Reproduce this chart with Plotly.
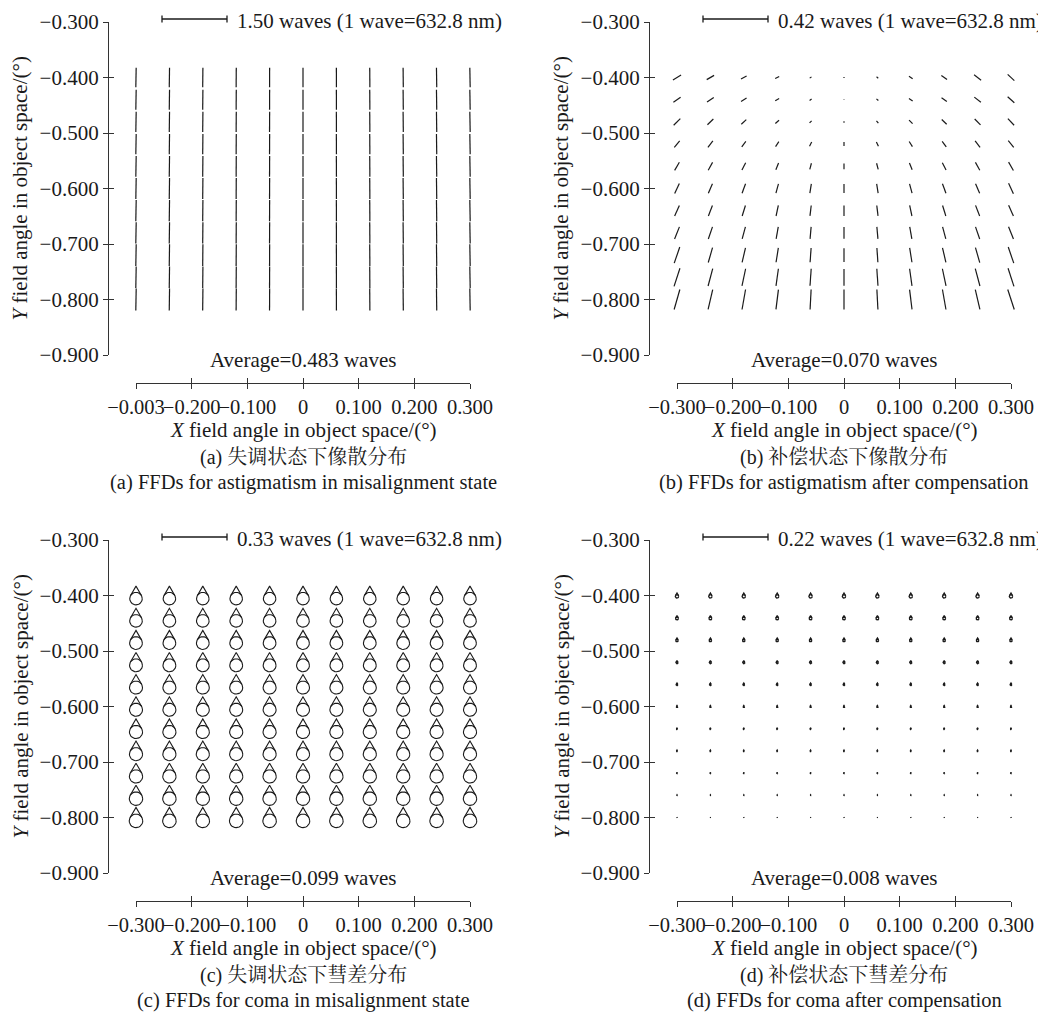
import math
import plotly.graph_objects as go

# page: the figure div sits 8 px in from the top-left corner (body margin)
PAGE_W, PAGE_H = 1046, 1014
OFF = 8
W, H = PAGE_W - OFF, PAGE_H - OFF

# ---------------- data ----------------
XS = [-0.30, -0.24, -0.18, -0.12, -0.06, 0.00, 0.06, 0.12, 0.18, 0.24, 0.30]
YS = [-0.40, -0.44, -0.48, -0.52, -0.56, -0.60, -0.64, -0.68, -0.72, -0.76, -0.80]

X_TICKVALS = [-0.3, -0.2, -0.1, 0.0, 0.1, 0.2, 0.3]
X_TICKTEXT_A = ["−0.003", "−0.200", "−0.100", "0", "0.100", "0.200", "0.300"]
X_TICKTEXT = ["−0.300", "−0.200", "−0.100", "0", "0.100", "0.200", "0.300"]
Y_TICKVALS = [-0.9, -0.8, -0.7, -0.6, -0.5, -0.4, -0.3]
Y_TICKTEXT = ["−0.900", "−0.800", "−0.700", "−0.600", "−0.500", "−0.400", "−0.300"]

# (a) astigmatism, misalignment: magnitude per row (waves), orientation per column (deg from vertical)
ASTIG_A_MAG_ROWS = [0.45, 0.46, 0.47, 0.47, 0.48, 0.48, 0.49, 0.49, 0.50, 0.50, 0.51]
ASTIG_A_ANG_COLS = [1.0, 0.8, 0.6, 0.4, 0.2, 0.0, -0.2, -0.4, -0.6, -0.8, -1.0]

# (b) astigmatism after compensation: magnitude (0.001 waves), orientation (deg from vertical)
ASTIG_B_MAG = [
    [61, 55, 41, 29, 14, 5, 14, 29, 45, 57, 59],
    [57, 52, 42, 29, 16, 4, 16, 29, 42, 54, 58],
    [61, 53, 44, 32, 19, 10, 19, 32, 44, 53, 59],
    [55, 52, 45, 39, 31, 26, 31, 39, 45, 52, 56],
    [61, 58, 53, 47, 41, 37, 41, 47, 53, 58, 62],
    [71, 68, 66, 63, 60, 58, 60, 63, 66, 68, 74],
    [75, 73, 71, 70, 68, 67, 68, 70, 71, 74, 76],
    [84, 83, 81, 79, 78, 76, 78, 79, 81, 83, 85],
    [110, 100, 97, 94, 92, 90, 92, 94, 97, 101, 110],
    [123, 116, 113, 111, 110, 108, 110, 111, 113, 116, 123],
    [134, 132, 131, 129, 129, 129, 129, 129, 131, 132, 136],
]
ASTIG_B_ANG = [
    [59, 60, 62, 63, 55, 0, -50, -55, -55, -53, -47],
    [55, 57, 58, 60, 55, 0, -50, -55, -55, -52, -48],
    [45, 46, 47, 48, 45, 0, -40, -45, -46, -45, -43],
    [39, 38, 36, 33, 27, 0, -25, -32, -36, -38, -39],
    [30, 29, 27, 22, 15, 0, -15, -22, -27, -29, -30],
    [25, 23, 20, 15, 9, 0, -9, -15, -20, -23, -25],
    [24, 21, 17, 12, 7, 0, -7, -12, -17, -21, -24],
    [22, 19, 15, 10, 5, 0, -5, -10, -15, -19, -22],
    [19, 16, 13, 9, 4, 0, -4, -9, -13, -16, -19],
    [18, 15, 12, 8, 4, 0, -4, -8, -12, -15, -18],
    [16, 13, 10, 7, 3, 0, -3, -7, -10, -13, -18],
]

# (c) coma, misalignment: magnitude per row (waves)
COMA_C_MAG_ROWS = [0.095, 0.096, 0.097, 0.098, 0.099, 0.099, 0.100, 0.100, 0.101, 0.102, 0.103]
# (d) coma after compensation: magnitude per row (waves)
COMA_D_MAG_ROWS = [0.017, 0.015, 0.013, 0.011, 0.009, 0.007, 0.006, 0.005, 0.004, 0.003, 0.002]
COMA_DIRECTION_DEG = 90  # apex pointing to +Y

SCALE_WAVES = [1.50, 0.42, 0.33, 0.22]
AVERAGES = [0.483, 0.070, 0.099, 0.008]
CAPTIONS_ZH = ["(a) 失调状态下像散分布", "(b) 补偿状态下像散分布",
               "(c) 失调状态下彗差分布", "(d) 补偿状态下彗差分布"]
CAPTIONS_EN = ["(a) FFDs for astigmatism in misalignment state",
               "(b) FFDs for astigmatism after compensation",
               "(c) FFDs for coma in misalignment state",
               "(d) FFDs for coma after compensation"]

# ---------------- layout geometry (page pixels) ----------------
PANEL_OFF = [(0, 0), (541, 0), (0, 518), (541, 518)]
PX_X_LO, PX_X_HI = 136, 470      # x = -0.3 .. 0.3
PX_Y_TOP, PX_Y_BOT = 22, 355     # y = -0.3 .. -0.9
PX_YAXIS = 108
PX_XAXIS = 383
PXU_X = (PX_X_HI - PX_X_LO) / 0.6
PXU_Y = (PX_Y_BOT - PX_Y_TOP) / 0.6
BAR_PX = 65
BAR_X0, BAR_Y = 162, 19
DATA_PX_X = (112, 495)
DATA_PX_Y = (10, 368)

FONT = "Liberation Serif, Times New Roman, serif"
FONT_ZH = "Liberation Serif, Noto Serif CJK SC, Noto Sans CJK SC, serif"
INK = "#1a1a1a"
AXIS_C = "#333333"


def fx(px):
    return (px - OFF) / W


def fy(py):
    return 1 - (py - OFF) / H


def seg_traces(mags, angs, scale):
    xs, ys = [], []
    for j, y in enumerate(YS):
        for i, x in enumerate(XS):
            L = mags[j][i] * BAR_PX / scale
            th = math.radians(angs[j][i])
            dx = 0.5 * L * math.sin(th) / PXU_X
            dy = 0.5 * L * math.cos(th) / PXU_Y
            xs += [x - dx, x + dx, None]
            ys += [y - dy, y + dy, None]
    return xs, ys


def coma_traces(mags, scale, direction):
    xs, ys = [], []
    ph = math.radians(direction)
    ux, uy = math.cos(ph), math.sin(ph)       # unit toward apex
    vx, vy = -uy, ux
    for j, y in enumerate(YS):
        for i, x in enumerate(XS):
            S = mags[j][i] * BAR_PX / scale
            R = S / 3.0
            cxp, cyp = -0.5 * R * ux, -0.5 * R * uy
            axp, ayp = 1.5 * R * ux, 1.5 * R * uy
            for k in range(29):
                a = 2 * math.pi * k / 28
                xs.append(x + (cxp + R * math.cos(a)) / PXU_X)
                ys.append(y + (cyp + R * math.sin(a)) / PXU_Y)
            xs.append(None); ys.append(None)
            t1 = (cxp + R * (0.5 * ux + 0.866 * vx), cyp + R * (0.5 * uy + 0.866 * vy))
            t2 = (cxp + R * (0.5 * ux - 0.866 * vx), cyp + R * (0.5 * uy - 0.866 * vy))
            for (px, py) in (t1, (axp, ayp), t2):
                xs.append(x + px / PXU_X)
                ys.append(y + py / PXU_Y)
            xs.append(None); ys.append(None)
    return xs, ys


grid_a_mag = [[m for _ in XS] for m in ASTIG_A_MAG_ROWS]
grid_a_ang = [list(ASTIG_A_ANG_COLS) for _ in YS]
grid_b_mag = [[v / 1000.0 for v in row] for row in ASTIG_B_MAG]
grid_c_mag = [[m for _ in XS] for m in COMA_C_MAG_ROWS]
grid_d_mag = [[m for _ in XS] for m in COMA_D_MAG_ROWS]

panel_xy = [
    seg_traces(grid_a_mag, grid_a_ang, SCALE_WAVES[0]),
    seg_traces(grid_b_mag, ASTIG_B_ANG, SCALE_WAVES[1]),
    coma_traces(grid_c_mag, SCALE_WAVES[2], COMA_DIRECTION_DEG),
    coma_traces(grid_d_mag, SCALE_WAVES[3], COMA_DIRECTION_DEG),
]
panel_lw = [1.2, 1.2, 1.1, 1.3]

fig = go.Figure()
layout = {}
annotations = []
shapes = []


def axname(prefix, n):
    return prefix if n == 1 else f"{prefix}{n}"


for k, (ox, oy) in enumerate(PANEL_OFF):
    b = 3 * k + 1
    dx_id, dy_id = axname("x", b), axname("y", b)
    sx_id, sy_id = axname("x", b + 1), axname("y", b + 1)
    ix_id, iy_id = axname("x", b + 2), axname("y", b + 2)

    x_lo = -0.3 + (DATA_PX_X[0] - PX_X_LO) / PXU_X
    x_hi = -0.3 + (DATA_PX_X[1] - PX_X_LO) / PXU_X
    y_hi = -0.3 + (PX_Y_TOP - DATA_PX_Y[0]) / PXU_Y
    y_lo = -0.9 - (DATA_PX_Y[1] - PX_Y_BOT) / PXU_Y
    layout[axname("xaxis", b)] = dict(domain=[fx(ox + DATA_PX_X[0]), fx(ox + DATA_PX_X[1])],
                                      range=[x_lo, x_hi], visible=False, fixedrange=True,
                                      anchor=dy_id, automargin=False)
    layout[axname("yaxis", b)] = dict(domain=[fy(oy + DATA_PX_Y[1]), fy(oy + DATA_PX_Y[0])],
                                      range=[y_lo, y_hi], visible=False, fixedrange=True,
                                      anchor=dx_id, automargin=False)

    common_x = dict(domain=[fx(ox + PX_X_LO), fx(ox + PX_X_HI)], range=[-0.3, 0.3],
                    anchor="free", position=fy(oy + PX_XAXIS), tickvals=X_TICKVALS,
                    showgrid=False, zeroline=False, fixedrange=True, tickangle=0,
                    automargin=False,
                    tickcolor=AXIS_C, tickwidth=1.3, ticklen=5)
    common_y = dict(domain=[fy(oy + PX_Y_BOT), fy(oy + PX_Y_TOP)], range=[-0.9, -0.3],
                    anchor="free", position=fx(ox + PX_YAXIS), side="left",
                    tickvals=Y_TICKVALS, showgrid=False, zeroline=False, fixedrange=True,
                    automargin=False,
                    tickcolor=AXIS_C, tickwidth=1.3, ticklen=5)

    layout[axname("xaxis", b + 1)] = dict(common_x, ticks="outside", showline=True,
                                          linecolor=AXIS_C, linewidth=1.3,
                                          ticktext=X_TICKTEXT_A if k == 0 else X_TICKTEXT,
                                          tickfont=dict(family=FONT, size=20.5, color=INK),
                                          ticklabelstandoff=0)
    layout[axname("yaxis", b + 1)] = dict(common_y, ticks="outside", showline=True,
                                          linecolor=AXIS_C, linewidth=1.3,
                                          ticktext=Y_TICKTEXT,
                                          tickfont=dict(family=FONT, size=21, color=INK),
                                          ticklabelstandoff=0)
    layout[axname("xaxis", b + 2)] = dict(common_x, ticks="inside", showline=False,
                                          showticklabels=False, overlaying=sx_id)
    layout[axname("yaxis", b + 2)] = dict(common_y, ticks="inside", showline=False,
                                          showticklabels=False, overlaying=sy_id)

    fig.add_trace(go.Scatter(x=[], y=[], xaxis=sx_id, yaxis=sy_id, showlegend=False,
                             hoverinfo="skip"))
    fig.add_trace(go.Scatter(x=[], y=[], xaxis=ix_id, yaxis=iy_id, showlegend=False,
                             hoverinfo="skip"))

    xs, ys = panel_xy[k]
    fig.add_trace(go.Scatter(x=xs, y=ys, mode="lines", xaxis=dx_id, yaxis=dy_id,
                             line=dict(color=INK, width=panel_lw[k]),
                             showlegend=False, hoverinfo="skip", connectgaps=False))

    # scale bar
    bx0, bx1, by = ox + BAR_X0, ox + BAR_X0 + BAR_PX, oy + BAR_Y
    shapes.append(dict(type="line", xref="paper", yref="paper", x0=fx(bx0), x1=fx(bx1),
                       y0=fy(by), y1=fy(by), line=dict(color=INK, width=1.3)))
    for bxx in (bx0, bx1):
        shapes.append(dict(type="line", xref="paper", yref="paper", x0=fx(bxx), x1=fx(bxx),
                           y0=fy(by - 3.5), y1=fy(by + 3.5), line=dict(color=INK, width=1.3)))
    annotations.append(dict(text=f"{SCALE_WAVES[k]:.2f} waves (1 wave=632.8 nm)",
                            xref="paper", yref="paper", x=fx(bx1 + 8), y=fy(oy + 21),
                            xanchor="left", yanchor="middle", showarrow=False,
                            font=dict(family=FONT, size=21, color=INK)))

    cx = ox + (PX_X_LO + PX_X_HI) / 2
    annotations.append(dict(text=f"Average={AVERAGES[k]:.3f} waves", xref="paper",
                            yref="paper", x=fx(cx), y=fy(oy + 360), xanchor="center",
                            yanchor="middle", showarrow=False,
                            font=dict(family=FONT, size=21, color=INK)))
    annotations.append(dict(text="<i>X</i> field angle in object space/(°)", xref="paper",
                            yref="paper", x=fx(cx), y=fy(oy + 430), xanchor="center",
                            yanchor="middle", showarrow=False,
                            font=dict(family=FONT, size=21, color=INK)))
    annotations.append(dict(text=CAPTIONS_ZH[k], xref="paper", yref="paper", x=fx(cx),
                            y=fy(oy + 457), xanchor="center", yanchor="middle",
                            showarrow=False, font=dict(family=FONT_ZH, size=20, color=INK)))
    annotations.append(dict(text=CAPTIONS_EN[k], xref="paper", yref="paper", x=fx(cx),
                            y=fy(oy + 482), xanchor="center", yanchor="middle",
                            showarrow=False, font=dict(family=FONT, size=20.5, color=INK)))
    annotations.append(dict(text="<i>Y</i> field angle in object space/(°)", xref="paper",
                            yref="paper", x=fx(ox + 20), y=fy(oy + (PX_Y_TOP + PX_Y_BOT) / 2),
                            xanchor="center", yanchor="middle", textangle=-90,
                            showarrow=False, font=dict(family=FONT, size=21, color=INK)))

fig.update_layout(
    template="none",
    width=W, height=H, margin=dict(l=0, r=0, t=0, b=0, pad=0),
    paper_bgcolor="white", plot_bgcolor="rgba(0,0,0,0)",
    font=dict(family=FONT, color=INK),
    showlegend=False, annotations=annotations, shapes=shapes,
    **layout,
)
fig.write_html("out.html")
